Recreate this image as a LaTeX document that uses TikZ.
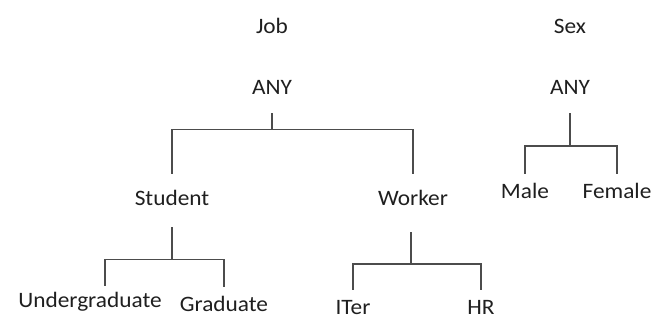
\documentclass[tikz,border=0pt]{standalone}
\usepackage{fontspec}
\setmainfont{Carlito}[FakeStretch=1.06]
\usepackage{tikz}

\begin{document}
\begin{tikzpicture}[x=0.75pt,y=-0.75pt,
    lbl/.style={anchor=base,inner sep=0pt,text height=10.5pt,text depth=0pt,
      text=black!88,font=\fontsize{16.5}{20}\selectfont},
    stem/.style={draw=black!70,line width=1pt,shorten <=13.5pt},
    leg/.style={draw=black!70,line width=1pt,shorten >=13pt},
    leaf/.style={draw=black!70,line width=1pt,shorten >=8pt}]
    \useasboundingbox (0,0) rectangle (665,320);
    % Attribute names
    \node[lbl] (job) at (272,34) {Job};
    \node[lbl] (sex) at (570,34) {Sex};
    % Roots
    \node[lbl] (anyjob) at (272,95) {ANY};
    \node[lbl] (anysex) at (570,95) {ANY};
    % Job values
    \node[lbl] (student) at (172,206) {Student};
    \node[lbl] (worker) at (413,206) {Worker};
    \node[lbl] (under) at (90,308) {Undergraduate};
    \node[lbl] (grad) at (224,312) {Graduate};
    \node[lbl] (iter) at (353,315) {ITer};
    \node[lbl] (hr) at (481,315) {HR};
    % Sex values
    \node[lbl] (male) at (525,199) {Male};
    \node[lbl] (female) at (617,199) {Female};
    % Fork points
    \coordinate (jobfork) at (272,129.5);
    \coordinate (studfork) at (172,259.5);
    \coordinate (workfork) at (411,264);
    \coordinate (sexfork) at (570,146);
    % Job tree
    \draw[stem] (anyjob.south) -- (jobfork);
    \draw[leg] (jobfork) -| (student.north);
    \draw[leg] (jobfork) -| (worker.north);
    \draw[stem,shorten <=15.75pt] (student.south) -- (studfork);
    \draw[leaf,shorten >=6pt] (studfork) -| ([xshift=11.25pt]under.north);
    \draw[leaf] (studfork) -| (grad.north);
    \draw[stem,shorten <=19.5pt] (worker.south -| workfork) -- (workfork);
    \draw[leaf] (workfork) -| (iter.north);
    \draw[leaf] (workfork) -| (hr.north);
    % Sex tree
    \draw[stem] (anysex.south) -- (sexfork);
    \draw[leaf] (sexfork) -| (male.north);
    \draw[leaf] (sexfork) -| (female.north);
\end{tikzpicture}
\end{document}
